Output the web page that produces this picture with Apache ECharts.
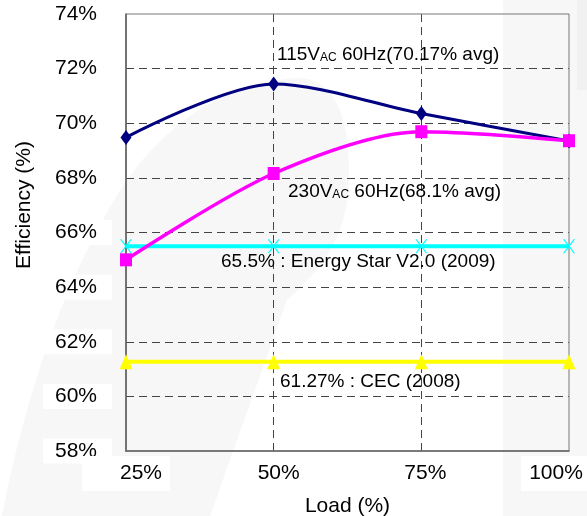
<!DOCTYPE html>
<html>
<head>
<meta charset="utf-8">
<script src="https://cdn.jsdelivr.net/npm/echarts@6/dist/echarts.min.js"></script>
<style>
html,body{margin:0;padding:0;background:#fff;}
#chart{width:587px;height:516px;}
</style>
</head>
<body>
<div id="chart"></div>
<script>
// ---- data ----
var loadLabels = ['25%', '50%', '75%', '100%'];
var eff115 = [69.48, 71.44, 70.36, 69.35];
var eff230 = [65.0, 68.16, 69.69, 69.36];
var energyStar = [65.5, 65.5, 65.5, 65.5];
var cec = [61.27, 61.27, 61.27, 61.27];
var yTicks = [58, 60, 62, 64, 66, 68, 70, 72, 74];

var FONT = '"Liberation Sans", Arial, sans-serif';
var chart = echarts.init(document.getElementById('chart'));

// per-label paddings to nudge x labels like the reference
var xLabelPad = {
  '25%': [7, 8, 7, 38],
  '50%': [7, 8, 7, 18],
  '75%': [7, 8, 7, 16],
  '100%': [7, 34, 7, 8]
};

// faint background watermark outline (decorative)
function bez(p0, p1, p2, p3, n, out) {
  for (var i = 1; i <= n; i++) {
    var t = i / n, u = 1 - t;
    out.push([
      u * u * u * p0[0] + 3 * u * u * t * p1[0] + 3 * u * t * t * p2[0] + t * t * t * p3[0],
      u * u * u * p0[1] + 3 * u * u * t * p1[1] + 3 * u * t * t * p2[1] + t * t * t * p3[1]
    ]);
  }
}
var wm = [[2, 516]];
bez([2, 516], [20, 420], [60, 280], [127, 180], 20, wm);
bez([127, 180], [170, 120], [230, 80], [300, 78], 20, wm);
bez([300, 78], [340, 80], [352, 130], [348, 190], 20, wm);
bez([348, 190], [345, 240], [320, 270], [287, 300], 20, wm);
wm.push([210, 516]);

function annot(x, y, parts) {
  return {
    type: 'text', left: x, top: y, z: 50,
    style: {
      text: parts, font: '19px ' + FONT, fill: '#000',
      rich: {
        a: { fontSize: 19, fontFamily: FONT, color: '#000' },
        s: { fontSize: 12, fontFamily: FONT, color: '#000', verticalAlign: 'bottom' }
      }
    }
  };
}

var option = {
  backgroundColor: '#fff',
  animation: false,
  grid: { left: 126, right: 18, top: 14, bottom: 65, outerBoundsMode: 'none', containLabel: false, show: true, borderColor: '#777', borderWidth: 1, z: 1 },
  graphic: [
    { type: 'rect', z: -100, silent: true, shape: { x: 503, y: 0, width: 84, height: 516 }, style: { fill: '#f7f7f7' } },
    { type: 'rect', z: -99, silent: true, shape: { x: 577, y: 0, width: 10, height: 90 }, style: { fill: '#f1f1f1' } },
    { type: 'polygon', z: -100, silent: true, shape: { points: wm }, style: { fill: '#f7f7f7' } },
    {
      type: 'text', x: 24, y: 205, rotation: Math.PI / 2, z: 50,
      style: { text: 'Efficiency (%)', font: '21px ' + FONT, fill: '#000', textAlign: 'center', textVerticalAlign: 'middle' }
    },
    annot(277, 45, '{a|115V}{s|AC}{a| 60Hz(70.17% avg)}'),
    annot(288, 182, '{a|230V}{s|AC}{a| 60Hz(68.1% avg)}'),
    annot(221, 252, '{a|65.5% : Energy Star V2.0 (2009)}'),
    annot(280, 372, '{a|61.27% : CEC (2008)}')
  ],
  xAxis: {
    type: 'category',
    boundaryGap: false,
    data: loadLabels.map(function (l) {
      return { value: l, textStyle: { padding: xLabelPad[l] } };
    }),
    name: 'Load (%)',
    nameLocation: 'middle',
    nameGap: 42,
    nameTextStyle: { fontSize: 21, fontFamily: FONT, color: '#000' },
    axisLine: { show: true, lineStyle: { color: '#555', width: 1.5 } },
    axisTick: { show: false },
    axisLabel: { fontSize: 21, fontFamily: FONT, color: '#000', margin: 5, backgroundColor: '#fff', interval: 0, hideOverlap: false },
    splitLine: { show: true, showMinLine: false, showMaxLine: false, lineStyle: { color: '#444', type: [8, 5], width: 1 } }
  },
  yAxis: {
    type: 'value',
    min: 58, max: 74, interval: 2,
    axisLine: { show: true, lineStyle: { color: '#444', width: 1.5 } },
    axisTick: { show: false },
    axisLabel: {
      fontSize: 21, fontFamily: FONT, color: '#000', margin: 14,
      backgroundColor: '#fff', padding: [2, 15, 2, 12],
      formatter: function (v) { return yTicks.indexOf(v) >= 0 ? v + '%' : ''; }
    },
    splitLine: { show: true, showMinLine: false, showMaxLine: false, lineStyle: { color: '#444', type: [8, 5], width: 1 } }
  },
  series: [
    {
      name: '115VAC', type: 'line', data: eff115, smooth: 0.3, z: 5,
      symbol: 'diamond', symbolSize: [11, 15],
      lineStyle: { color: '#000080', width: 3 }, itemStyle: { color: '#000080' }
    },
    {
      name: '230VAC', type: 'line', data: eff230, smooth: 0.3, z: 6,
      symbol: 'rect', symbolSize: [12, 13],
      lineStyle: { color: '#ff00ff', width: 3.5 }, itemStyle: { color: '#ff00ff' }
    },
    {
      name: 'Energy Star', type: 'line', data: energyStar, z: 4,
      symbol: 'path://M0,0L1.5,0L6,5.2L10.5,0L12,0L6.8,6L12,12L10.5,12L6,6.8L1.5,12L0,12L5.2,6Z', symbolSize: [12, 14],
      lineStyle: { color: '#00ffff', width: 4 }, itemStyle: { color: '#00ffff' }
    },
    {
      name: 'CEC', type: 'line', data: cec, z: 4,
      symbol: 'triangle', symbolSize: [13, 15],
      lineStyle: { color: '#ffff00', width: 4 }, itemStyle: { color: '#ffff00' }
    }
  ]
};
chart.setOption(option);
</script>
</body>
</html>
